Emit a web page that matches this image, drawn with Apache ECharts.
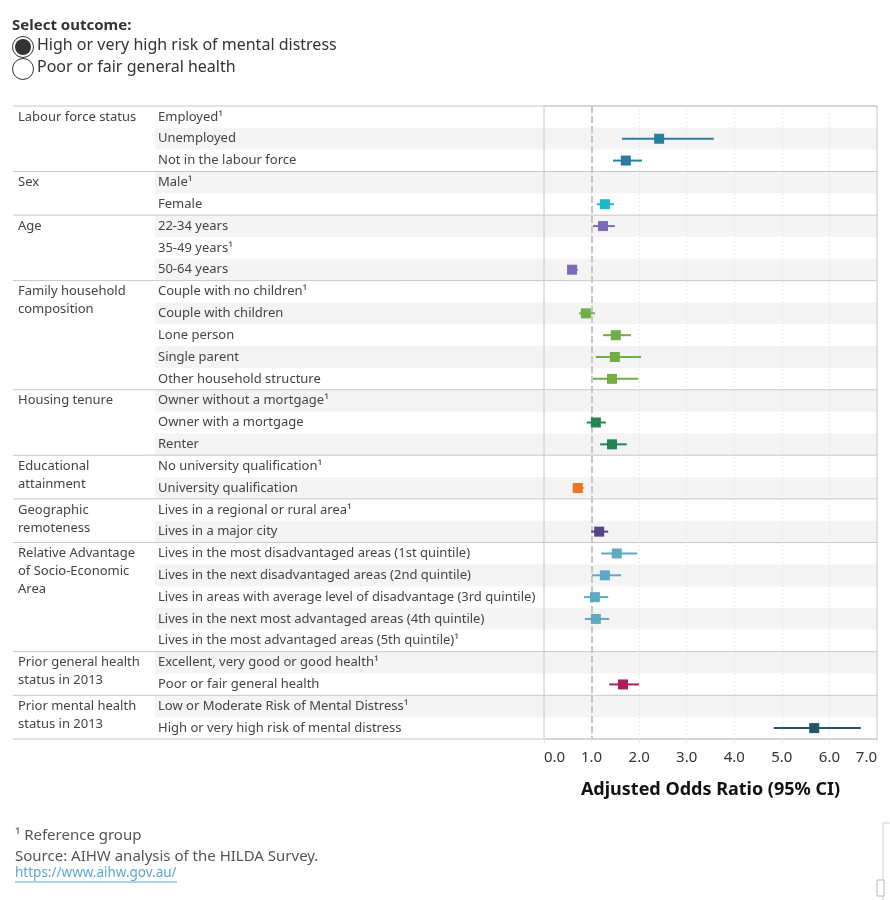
<!DOCTYPE html>
<html>
<head>
<meta charset="utf-8">
<script src="https://cdn.jsdelivr.net/npm/echarts@6/dist/echarts.min.js"></script>
<style>
html,body{margin:0;padding:0;background:#fff}
#chart{width:890px;height:900px}
</style>
</head>
<body>
<div id="chart"></div>
<script>
// groups of the table and how many rows each one has
const groups = ['Labour force status', 'Sex', 'Age', 'Family household\ncomposition', 'Housing tenure',
  'Educational\nattainment', 'Geographic\nremoteness', 'Relative Advantage\nof Socio-Economic\nArea',
  'Prior general health\nstatus in 2013', 'Prior mental health\nstatus in 2013']
const groupSizes = [3, 2, 3, 5, 3, 2, 2, 5, 2, 2]
const groupColors = ['#2b7f9a', '#1cb9c9', '#7b6bb6', '#72ad45', '#22854f', '#f07424', '#55468a', '#5ea9c1', '#ac1d5a', '#255565']

const rowLabels = ['Employed¹', 'Unemployed', 'Not in the labour force',
  'Male¹', 'Female',
  '22-34 years', '35-49 years¹', '50-64 years',
  'Couple with no children¹', 'Couple with children', 'Lone person', 'Single parent', 'Other household structure',
  'Owner without a mortgage¹', 'Owner with a mortgage', 'Renter',
  'No university qualification¹', 'University qualification',
  'Lives in a regional or rural area¹', 'Lives in a major city',
  'Lives in the most disadvantaged areas (1st quintile)', 'Lives in the next disadvantaged areas (2nd quintile)',
  'Lives in areas with average level of disadvantage (3rd quintile)', 'Lives in the next most advantaged areas (4th quintile)',
  'Lives in the most advantaged areas (5th quintile)¹',
  'Excellent, very good or good health¹', 'Poor or fair general health',
  'Low or Moderate Risk of Mental Distress¹', 'High or very high risk of mental distress']

// adjusted odds ratio and 95% CI (null = reference group)
const oddsRatio = [null, 2.42, 1.72, null, 1.28, 1.24, null, 0.59, null, 0.88, 1.51, 1.49, 1.43,
  null, 1.09, 1.43, null, 0.71, null, 1.16, 1.53, 1.28, 1.07, 1.09, null, null, 1.66, null, 5.68]
const ciLow = [null, 1.64, 1.45, null, 1.11, 1.03, null, 0.52, null, 0.74, 1.24, 1.09, 1.03,
  null, 0.90, 1.18, null, 0.63, null, 0.99, 1.20, 1.01, 0.84, 0.86, null, null, 1.37, null, 4.83]
const ciHigh = [null, 3.57, 2.06, null, 1.47, 1.49, null, 0.71, null, 1.07, 1.83, 2.04, 1.98,
  null, 1.30, 1.74, null, 0.83, null, 1.35, 1.96, 1.62, 1.35, 1.37, null, null, 2.00, null, 6.66]

const xMin = 0, xMax = 7, xStep = 1
const refValue = 1

const FONT = '"Noto Sans"'
const TABLE_LEFT = 13
const ROW_LABEL_X = 155
const GROUP_LABEL_X = 18
const LINE = '#c8c8c8'

// which group each row is in, and where each group starts
const rowGroup = []
const groupStart = {}
groupSizes.forEach((n, g) => {
  groupStart[rowGroup.length] = g
  for (let k = 0; k < n; k++) rowGroup.push(g)
})

const renderBackground = (params, api) => {
  const i = api.value(1)
  const cs = params.coordSys
  const h = api.size([0, 1])[1]
  const top = api.coord([0, i])[1] - h / 2
  const right = cs.x + cs.width
  const children = []
  if (i % 2 === 1) {
    children.push({type: 'rect', shape: {x: ROW_LABEL_X, y: top, width: right - ROW_LABEL_X, height: h},
      style: {fill: '#f4f4f4'}})
  }
  if (groupStart[i] !== undefined) {
    children.push({type: 'line', shape: {x1: TABLE_LEFT, y1: top, x2: right, y2: top},
      style: {stroke: LINE, lineWidth: 1}})
    children.push({type: 'text', x: GROUP_LABEL_X, y: top + h / 2 - 9,
      style: {text: groups[groupStart[i]], fill: '#444', font: '13px ' + FONT, lineHeight: 18,
        verticalAlign: 'top', align: 'left'}})
  }
  if (i === rowLabels.length - 1) {
    children.push({type: 'line', shape: {x1: TABLE_LEFT, y1: top + h, x2: right, y2: top + h},
      style: {stroke: LINE, lineWidth: 1}})
  }
  return {type: 'group', children}
}

const renderCI = (params, api) => {
  const i = api.value(2)
  const a = api.coord([api.value(0), i])
  const b = api.coord([api.value(1), i])
  return {type: 'line', shape: {x1: a[0], y1: a[1], x2: b[0], y2: b[1]},
    style: {stroke: api.visual('color'), lineWidth: 2}}
}

const ciData = []
const pointData = []
rowLabels.forEach((_, i) => {
  if (oddsRatio[i] === null) return
  const color = groupColors[rowGroup[i]]
  ciData.push({value: [ciLow[i], ciHigh[i], i], itemStyle: {color}})
  pointData.push({value: [oddsRatio[i], i], itemStyle: {color, opacity: 1}})
})

const chart = echarts.init(document.getElementById('chart'))
const option = {
  animation: false,
  textStyle: {fontFamily: FONT},
  grid: {left: 544, right: 13, top: 106, bottom: 161, show: true, borderColor: LINE, borderWidth: 1},
  xAxis: {
    type: 'value', min: xMin, max: xMax, interval: xStep,
    name: 'Adjusted Odds Ratio (95% CI)', nameLocation: 'middle', nameGap: 42,
    nameTextStyle: {fontSize: 18, fontWeight: 'bold', color: '#111', fontFamily: FONT},
    axisLine: {show: false},
    axisTick: {show: true, length: 4, lineStyle: {color: '#e8e8e8'}},
    splitLine: {show: true, lineStyle: {type: [1, 3], color: '#d8d8d8'}},
    axisLabel: {fontSize: 15, color: '#333', margin: 11, fontFamily: FONT,
      formatter: v => v.toFixed(1), alignMinLabel: 'left', alignMaxLabel: 'right'}
  },
  yAxis: {
    type: 'category', data: rowLabels, inverse: true,
    axisLine: {show: false}, axisTick: {show: false},
    axisLabel: {align: 'left', margin: 544 - 158, fontSize: 13, color: '#444', fontFamily: FONT}
  },
  series: [
    {type: 'custom', renderItem: renderBackground, clip: false, z: -1, silent: true,
      data: rowLabels.map((_, i) => [0, i]), encode: {x: 0, y: 1}},
    {type: 'custom', renderItem: renderCI, z: 2, data: ciData, encode: {x: [0, 1], y: 2}},
    {type: 'scatter', symbol: 'rect', symbolSize: 10, z: 4, data: pointData,
      markLine: {silent: true, z: 1, symbol: ['none', 'none'], label: {show: false},
        lineStyle: {color: '#c8c8c8', width: 2, type: [7, 3]}, data: [{xAxis: refValue}]}}
  ],
  graphic: [
    {type: 'text', left: 12, top: 18, style: {text: 'Select outcome:', font: 'bold 15px ' + FONT, fill: '#333'}},
    {type: 'circle', shape: {cx: 23, cy: 47, r: 10.5}, style: {fill: '#fff', stroke: '#333', lineWidth: 1}},
    {type: 'circle', shape: {cx: 23, cy: 47, r: 8}, style: {fill: '#333'}},
    {type: 'text', left: 37, top: 37, style: {text: 'High or very high risk of mental distress', font: '16px ' + FONT, fill: '#333'}},
    {type: 'circle', shape: {cx: 23, cy: 69, r: 10.5}, style: {fill: '#fff', stroke: '#333', lineWidth: 1}},
    {type: 'text', left: 37, top: 59, style: {text: 'Poor or fair general health', font: '16px ' + FONT, fill: '#333'}},
    {type: 'text', left: 15, top: 828, style: {text: '¹ Reference group', font: '15px ' + FONT, fill: '#555'}},
    {type: 'text', left: 15, top: 849, style: {text: 'Source: AIHW analysis of the HILDA Survey.', font: '15px ' + FONT, fill: '#555'}},
    {type: 'text', left: 15, top: 866, style: {text: 'https://www.aihw.gov.au/', font: '13.5px ' + FONT, fill: '#5fa9cf'}},
    {type: 'line', shape: {x1: 15, y1: 882, x2: 177, y2: 882}, style: {stroke: '#5fa9cf', lineWidth: 1}},
    {type: 'polyline', shape: {points: [[890, 823], [883, 823], [883, 900]]}, style: {stroke: '#cfcfcf', fill: null, lineWidth: 1}},
    {type: 'rect', shape: {x: 877, y: 880, width: 7, height: 16}, style: {fill: '#fff', stroke: '#bbb', lineWidth: 1}}
  ]
}
chart.setOption(option)
</script>
</body>
</html>
